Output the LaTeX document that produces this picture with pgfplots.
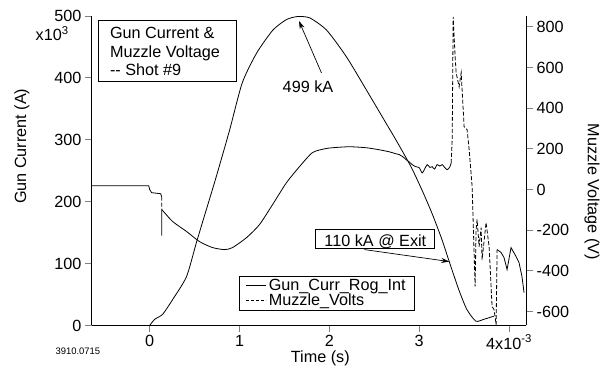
\documentclass[border=0pt]{standalone}
\usepackage{fontspec}
\setmainfont{Liberation Sans}
\usepackage{pgfplots}
\pgfplotsset{compat=1.18}
\usepackage{pgfplotstable}
\usetikzlibrary{arrows.meta}
\newcommand{\fs}{\fontsize{16.3}{19}\selectfont}

\pgfplotstableread{
t I
0 0
0.056 10
0.144 18
0.256 42
0.41 79
0.52 134
0.63 187
0.74 240
0.89 316
1.03 392
1.19 440
1.37 477
1.52 494
1.64 499
1.78 497
1.97 477
2.19 434
2.41 381
2.63 327
2.74 300
2.91 256
3.03 219
3.14 182
3.25 140
3.33 105
3.44 58
3.53 26
3.63 7
3.72 10
3.83 15
}\gun

\pgfplotstableread{
t V
-0.644 18
-0.011 18
0 -1
0.022 -16
0.122 -21
0.133 -36
}\voltA

\pgfplotstableread{
t V
0.133 -36
0.134 -227
0.135 -99
}\voltS

\pgfplotstableread{
t V
0.135 -99
0.256 -158
0.411 -207
0.556 -257
0.70 -286
0.833 -296
0.922 -286
1.078 -237
1.222 -173
1.367 -75
1.522 33
1.667 112
1.811 181
1.95 200
2.033 205
2.222 210
2.411 205
2.556 195
2.667 185
2.72 178
2.778 171
2.82 160
2.856 146
2.89 135
2.922 122
2.96 112
3.0 107
3.033 81
3.06 100
3.089 122
3.12 108
3.144 112
3.17 100
3.2 122
3.23 115
3.256 122
3.28 110
3.311 97
3.34 110
3.356 131
}\voltB

\pgfplotstableread{
t V
3.356 131
3.367 244
3.378 849
3.40 650
3.411 574
3.444 505
3.467 574
3.5 308
3.533 294
3.556 195
3.589 14
3.622 -477
3.633 -198
3.644 -148
3.667 -281
3.689 -188
3.70 -345
3.744 -163
3.778 -281
3.811 -576
3.833 -591
3.856 -665
3.867 -296
}\voltC

\pgfplotstableread{
t V
3.867 -296
3.911 -310
3.944 -335
3.978 -394
4.022 -286
4.078 -330
4.111 -360
4.144 -429
4.167 -508
}\voltD

\begin{document}
\begin{tikzpicture}
\begin{scope}[x=1bp,y=-1bp]
\useasboundingbox (0,0) rectangle (603,369);
\end{scope}
\pgfplotsset{myaxis/.style={
  width=435bp, height=310bp, scale only axis,
  at={(92bp,-326bp)}, anchor=south west,
  xmin=-0.644, xmax=4.19,
  tick align=outside, major tick length=7bp,
  axis line style={-, line width=1bp},
  major tick style={line width=0.9bp},
  font=\fs,
  /pgf/number format/assume math mode=true,
  tick label style={font=\fs},
  label style={font=\fs},
}}
\begin{axis}[myaxis,
  axis x line*=bottom, axis y line*=left,
  ymin=0, ymax=500,
  ytick={0,100,200,300,400,500},
  yticklabels={0,100,200,300,400,500},
  xtick={0,1,2,3,4},
  xticklabels={0,1,2,3,4x10\textsuperscript{-3}},
  xticklabel style={yshift=1bp},
  xlabel={Time (s)},
  ylabel={Gun Current (A)},
  ylabel style={at={(axis description cs:-0.161,0.579)}, anchor=center},
  xlabel style={at={(axis description cs:0.526,0)}, anchor=center, yshift=-33bp},
]
\addplot[black, line width=0.8bp, smooth, tension=0.4] table[x=t, y=I] {\gun};
\end{axis}
\begin{axis}[myaxis,
  axis x line=none, axis y line*=right,
  ymin=-669, ymax=853,
  ytick={-600,-400,-200,0,200,400,600,800},
  yticklabels={-600,-400,-200,0,200,400,600,800},
  ylabel={Muzzle Voltage (V)},
  ylabel style={at={(axis description cs:1.152,0.432)}, anchor=center, rotate=180},
  legend style={at={(0.338,0.1613)}, anchor=north west, draw=black,
    line width=0.8bp, inner xsep=7bp, inner ysep=1bp, font=\fs,
    cells={anchor=west}, row sep=-2bp,
    /tikz/every even column/.append style={column sep=4bp}},
  legend image code/.code={\draw[#1, line width=0.8bp] (0bp,0bp) -- (20bp,0bp);},
]
\addlegendimage{black, solid}
\addlegendentry{Gun\_Curr\_Rog\_Int}
\addlegendimage{black, dash pattern=on 3bp off 2bp}
\addlegendentry{Muzzle\_Volts}
\addplot[black, line width=0.8bp, forget plot] table[x=t, y=V] {\voltA};
\addplot[black, line width=0.8bp, dash pattern=on 4bp off 2bp, forget plot] table[x=t, y=V] {\voltS};
\addplot[black, line width=0.8bp, smooth, tension=0.4, forget plot] table[x=t, y=V] {\voltB};
\addplot[black, line width=0.8bp, dash pattern=on 4bp off 2bp, forget plot] table[x=t, y=V] {\voltC};
\addplot[black, line width=0.8bp, forget plot] table[x=t, y=V] {\voltD};
\end{axis}
\begin{scope}[x=1bp,y=-1bp]
\node[anchor=east, font=\fs, inner sep=0pt] at (69,34) {x10\textsuperscript{3}};
\draw[line width=0.8bp, fill=white] (99,20) rectangle (237,82);
\node[anchor=base west, font=\fs, inner sep=0pt] at (110,39) {Gun Current \&};
\node[anchor=base west, font=\fs, inner sep=0pt] at (110,57.5) {Muzzle Voltage};
\node[anchor=base west, font=\fs, inner sep=0pt] at (110,76) {-{}- Shot \#9};
\node[anchor=base, font=\fs, inner sep=0pt] at (308.5,93) {499 kA};
\draw[line width=0.7bp, -{Stealth[length=8bp,width=5bp]}] (322,73) -- (299.5,21);
\draw[line width=0.8bp, fill=white] (316,230) rectangle (435,249);
\node[anchor=base, font=\fs, inner sep=0pt] at (376,247) {110 kA @ Exit};
\draw[line width=0.7bp, -{Stealth[length=8bp,width=5bp]}] (365,250) -- (450,262);
\node[anchor=center, font=\fontsize{9.5}{11}\selectfont, inner sep=0pt] at (78,352) {3910.0715};
\end{scope}
\end{tikzpicture}
\end{document}
